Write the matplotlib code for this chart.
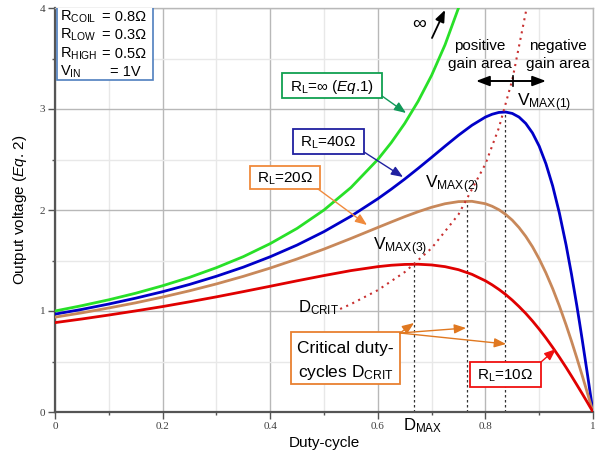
import matplotlib
matplotlib.use("Agg")
import matplotlib.pyplot as plt
from matplotlib.patches import Rectangle
from matplotlib.ticker import MultipleLocator, FixedLocator, FixedFormatter

plt.rcParams['font.family'] = ['Liberation Sans', 'DejaVu Sans']
plt.rcParams['mathtext.fontset'] = 'custom'
plt.rcParams['mathtext.rm'] = 'Liberation Sans'
plt.rcParams['mathtext.it'] = 'Liberation Sans:italic'
plt.rcParams['mathtext.bf'] = 'Liberation Sans:bold'

# ---------------- data ----------------
duty = [0, 0.05, 0.1, 0.15, 0.2, 0.25, 0.3, 0.35, 0.4, 0.45, 0.5, 0.55, 0.6,
        0.625, 0.65, 0.675, 0.7, 0.725, 0.75, 0.775, 0.8, 0.8125, 0.825, 0.8375,
        0.85, 0.8625, 0.875, 0.8875, 0.9, 0.9125, 0.925, 0.9375, 0.95, 0.96,
        0.97, 0.975, 0.98, 0.99, 1.0]
v_rl10 = [0.885, 0.921, 0.960, 1.001, 1.044, 1.091, 1.140, 1.192, 1.245, 1.299,
          1.351, 1.400, 1.439, 1.453, 1.461, 1.463, 1.456, 1.439, 1.409, 1.363,
          1.299, 1.259, 1.214, 1.164, 1.107, 1.044, 0.976, 0.901, 0.820, 0.733,
          0.640, 0.543, 0.441, 0.356, 0.269, 0.225, 0.181, 0.091, 0.0]
v_rl20 = [0.939, 0.982, 1.030, 1.081, 1.138, 1.200, 1.268, 1.343, 1.425, 1.515,
          1.613, 1.718, 1.827, 1.881, 1.934, 1.983, 2.027, 2.062, 2.083, 2.086,
          2.062, 2.037, 2.003, 1.957, 1.899, 1.826, 1.739, 1.636, 1.515, 1.377,
          1.222, 1.050, 0.862, 0.702, 0.534, 0.447, 0.360, 0.181, 0.0]
v_rl40 = [0.969, 1.016, 1.069, 1.127, 1.191, 1.263, 1.344, 1.434, 1.537, 1.653,
          1.786, 1.938, 2.111, 2.206, 2.306, 2.412, 2.521, 2.632, 2.740, 2.839,
          2.920, 2.948, 2.966, 2.970, 2.956, 2.920, 2.857, 2.763, 2.632, 2.458,
          2.239, 1.970, 1.653, 1.365, 1.051, 0.885, 0.714, 0.362, 0.0]
duty_inf = [0, 0.05, 0.1, 0.15, 0.2, 0.25, 0.3, 0.35, 0.4, 0.45, 0.5, 0.55, 0.6,
            0.625, 0.65, 0.675, 0.7, 0.725, 0.75, 0.76]
v_inf = [1.0, 1.053, 1.111, 1.176, 1.25, 1.333, 1.429, 1.538, 1.667, 1.818, 2.0,
         2.222, 2.5, 2.667, 2.857, 3.077, 3.333, 3.636, 4.0, 4.167]
duty_crit = [0.53, 0.55, 0.6, 0.65, 0.7, 0.75, 0.8, 0.825, 0.85, 0.875, 0.885]
v_crit = [1.020, 1.068, 1.206, 1.385, 1.622, 1.956, 2.455, 2.812, 3.289, 3.955, 4.30]
d_max = [0.667, 0.765, 0.836]
v_max = [1.463, 2.088, 2.970]

x_ticks = [0, 0.2, 0.4, 0.6, 0.8, 1.0]
x_tick_labels = ['0', '0.2', '0.4', '0.6', '0.8', '1']
y_ticks = [0, 1, 2, 3, 4]
y_tick_labels = ['0', '1', '2', '3', '4']

C_GREEN = '#28e028'
C_BLUE = '#0000c8'
C_BROWN = '#c8885a'
C_RED = '#e00000'

# ---------------- figure ----------------
fig = plt.figure(figsize=(5.96, 4.62), dpi=100)
ax = fig.add_axes([55 / 596, 1 - 412 / 462, (593 - 55) / 596, (412 - 8) / 462])
ax.set_xlim(0, 1)
ax.set_ylim(0, 4)


def P(x, y):
    """pixel position in the 596x462 picture -> data coordinates"""
    return ((x - 55) / 538.0, (412 - y) / 101.0)


# grid / ticks
ax.xaxis.set_major_locator(FixedLocator(x_ticks))
ax.xaxis.set_major_formatter(FixedFormatter(x_tick_labels))
ax.yaxis.set_major_locator(FixedLocator(y_ticks))
ax.yaxis.set_major_formatter(FixedFormatter(y_tick_labels))
ax.xaxis.set_minor_locator(MultipleLocator(0.1))
ax.yaxis.set_minor_locator(MultipleLocator(0.5))
ax.grid(which='major', color='#b8b8b8', lw=1.0, zorder=0)
ax.grid(which='minor', color='#e8e8e8', lw=1.0, zorder=0)
ax.set_axisbelow(True)
ax.tick_params(which='major', direction='out', length=5, width=1, color='#555555',
               labelsize=8, labelcolor='#404040', pad=2)
ax.tick_params(which='minor', direction='out', length=2.5, width=1, color='#555555')
for lab in ax.get_xticklabels() + ax.get_yticklabels():
    lab.set_fontfamily('Liberation Serif')
for s in ['left', 'bottom']:
    ax.spines[s].set_color('#555555')
    ax.spines[s].set_linewidth(1.6)
for s in ['top', 'right']:
    ax.spines[s].set_color('#b8b8b8')
    ax.spines[s].set_linewidth(1.0)

# curves
ax.plot(duty_inf, v_inf, color=C_GREEN, lw=2.0, zorder=3, solid_capstyle='round')
ax.plot(duty, v_rl40, color=C_BLUE, lw=2.0, zorder=3, solid_capstyle='round')
ax.plot(duty, v_rl20, color=C_BROWN, lw=2.0, zorder=3, solid_capstyle='round')
ax.plot(duty, v_rl10, color=C_RED, lw=2.0, zorder=3, solid_capstyle='round')
ax.plot(duty_crit, v_crit, color='#c83030', lw=1.5, ls=(0, (1, 2.2)), zorder=3)
for d, v in zip(d_max, v_max):
    ax.plot([d, d], [0, v], color='#333333', lw=0.9, ls=(0, (2, 2)), zorder=2)

# axis labels
ax.set_xlabel('Duty-cycle', fontsize=11, labelpad=4)
ax.set_ylabel(r'Output voltage ($\mathit{Eq}$. 2)', fontsize=11, labelpad=8)


def box(x0, y0, x1, y1, ec, lw=1.3):
    ax.add_patch(Rectangle(P(x0, y1), (x1 - x0) / 538.0, (y1 - y0) / 101.0,
                           fc='white', ec=ec, lw=lw, zorder=5))


def arrow(start, tip, color, lw=1.0):
    ax.annotate('', xy=P(*tip), xytext=P(*start),
                arrowprops=dict(arrowstyle='-|>,head_length=0.7,head_width=0.28',
                                color=color, lw=lw, shrinkA=0, shrinkB=0),
                zorder=6)


# parameter box
box(57, 7, 153, 80, '#4f7fbf', lw=1.2)
names = [r'$\mathrm{R_{COIL}}$', r'$\mathrm{R_{LOW}}$', r'$\mathrm{R_{HIGH}}$', r'$\mathrm{V_{IN}}$']
vals = ['= 0.8Ω', '= 0.3Ω', '= 0.5Ω', '= 1V']
val_x = [102, 102, 102, 110]
rows_y = [21, 39, 58, 76]
for nm, vl, vx, ry in zip(names, vals, val_x, rows_y):
    ax.text(*P(60, ry), nm, fontsize=10.5, ha='left', va='baseline', zorder=6)
    ax.text(*P(vx, ry), vl, fontsize=10.5, ha='left', va='baseline', zorder=6)

# R_L = inf box
box(282, 73, 382, 98, '#10a050')
ax.text(*P(332, 91), r'$\mathrm{R_L}$=∞ ($\mathit{Eq}$.1)', fontsize=11, ha='center',
        va='baseline', zorder=6)
arrow((382, 96), (406, 113), '#109858')

# R_L = 40 box
box(293, 129, 364, 154, '#2020a0')
ax.text(*P(328.5, 147), r'$\mathrm{R_L}$=40Ω', fontsize=11, ha='center', va='baseline', zorder=6)
arrow((364, 152), (403, 177), '#2020a0')

# R_L = 20 box
box(250, 166, 320, 189, '#f08a3c')
ax.text(*P(285, 183), r'$\mathrm{R_L}$=20Ω', fontsize=11, ha='center', va='baseline', zorder=6)
arrow((318, 189), (367, 225), '#f08a3c')

# R_L = 10 box
box(470, 362, 541, 387, '#f01010')
ax.text(*P(505.5, 380), r'$\mathrm{R_L}$=10Ω', fontsize=11, ha='center', va='baseline', zorder=6)
arrow((541, 362), (556, 349), '#f01010')

# critical duty cycle box
box(291, 332, 400, 384, '#e88030')
ax.text(*P(345.5, 353), 'Critical duty-', fontsize=12.5, ha='center', va='baseline', zorder=6)
ax.text(*P(345.5, 377), r'cycles D$_\mathrm{CRIT}$', fontsize=12.5, ha='center', va='baseline', zorder=6)
arrow((400, 333), (414, 323), '#e07820')
arrow((400, 333), (466, 328), '#e07820')
arrow((400, 333), (506, 344), '#e07820')

# labels
ax.text(*P(298, 312), r'D$_\mathrm{CRIT}$', fontsize=12, ha='left', va='baseline', zorder=6)
ax.text(*P(373, 250), r'V$_\mathrm{MAX(3)}$', fontsize=12.5, ha='left', va='baseline', zorder=6)
ax.text(*P(425, 188), r'V$_\mathrm{MAX(2)}$', fontsize=12.5, ha='left', va='baseline', zorder=6)
ax.text(*P(517, 106), r'V$_\mathrm{MAX(1)}$', fontsize=12.5, ha='left', va='baseline', zorder=6)
ax.text(*P(403, 430), r'D$_\mathrm{MAX}$', fontsize=12, ha='left', va='baseline',
        zorder=6, clip_on=False)

# infinity arrow
ax.text(*P(419, 24), '∞', fontsize=14, ha='center', va='center', zorder=6)
arrow((432, 38), (445, 10), 'black', lw=1.3)

# gain areas
ax.text(*P(480, 50), 'positive', fontsize=11, ha='center', va='baseline', zorder=6)
ax.text(*P(480, 68), 'gain area', fontsize=11, ha='center', va='baseline', zorder=6)
ax.text(*P(558, 50), 'negative', fontsize=11, ha='center', va='baseline', zorder=6)
ax.text(*P(558, 68), 'gain area', fontsize=11, ha='center', va='baseline', zorder=6)
ax.annotate('', xy=P(476, 81), xytext=P(546, 81),
            arrowprops=dict(arrowstyle='<|-|>,head_length=0.8,head_width=0.3',
                            color='black', lw=1.4, shrinkA=0, shrinkB=0), zorder=6)
ax.plot([P(513, 76)[0], P(513, 86)[0]], [P(513, 76)[1], P(513, 86)[1]],
        color='black', lw=1.2, zorder=6)

fig.savefig('out.png', dpi=100)
